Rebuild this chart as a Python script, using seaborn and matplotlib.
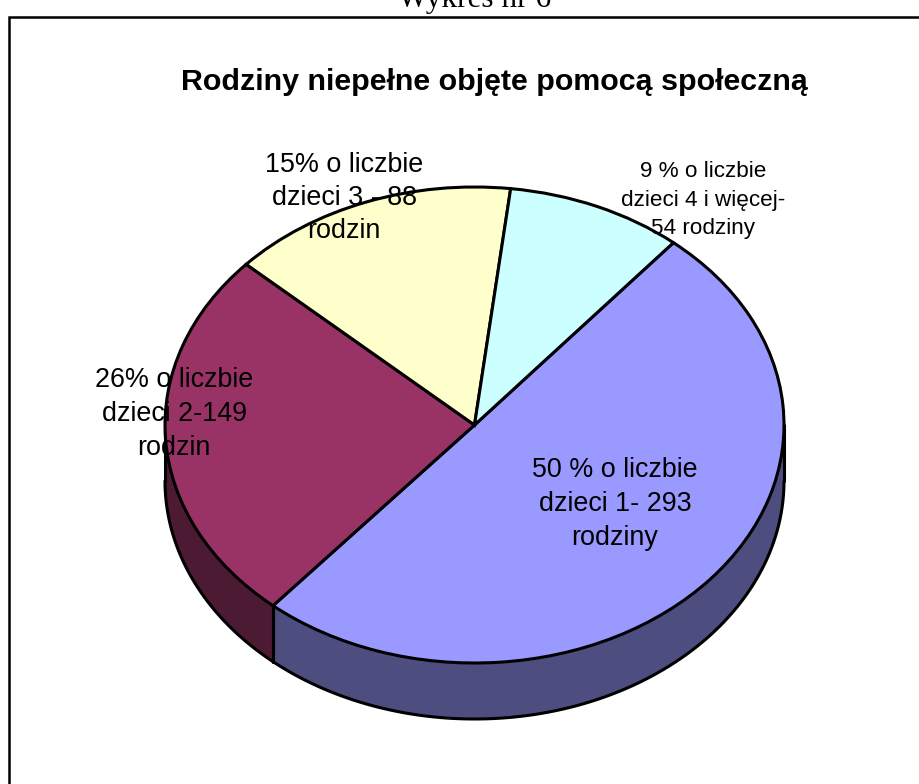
import matplotlib
matplotlib.use('Agg')
import matplotlib.pyplot as plt
import numpy as np
import seaborn as sns

# Dane
rodziny = [293, 149, 88, 54]
kolory_gora = ['#9999FF', '#993366', '#FFFFCC', '#CCFFFF']
kolory_bok = ['#4D4D80', '#4D1A33', '#808066', '#668080']
tytul = 'Rodziny niepełne objęte pomocą społeczną'
naglowek = 'Wykres nr 6'
etykiety = ['50 % o liczbie\ndzieci 1- 293\nrodziny',
            '26% o liczbie\ndzieci 2-149\nrodzin',
            '15% o liczbie\ndzieci 3 - 88\nrodzin',
            '9 % o liczbie\ndzieci 4 i więcej-\n54 rodziny']
etykiety_x = [615, 174, 344, 703]
etykiety_y = [504, 414, 198, 200]
etykiety_rozmiar = [19.4, 19.4, 19.4, 16.2]
etykiety_odstep = [1.42, 1.42, 1.34, 1.44]

sns.set_theme(style='white')
plt.rcParams['font.family'] = ['Liberation Sans', 'DejaVu Sans']

# Polozenie elipsy w pikselach
cx, cy, rx, ry, glebokosc = 474.5, 425, 309.5, 238, 56
kat_start = 50
szer = 2.2

fig = plt.figure(figsize=(9.19, 7.84), dpi=100, facecolor='white')
ax = fig.add_axes([0, 0, 1, 1])

# Gorna powierzchnia
paleta = sns.color_palette(kolory_gora)
ax.pie(rodziny, colors=paleta, startangle=kat_start, counterclock=False,
       wedgeprops={'edgecolor': 'black', 'linewidth': szer, 'zorder': 3})
ax.set_aspect('auto')
ax.set_xlim(-cx / rx, (919 - cx) / rx)
ax.set_ylim((cy - 784) / ry, cy / ry)

# Bok - tylko dolna polowa elipsy
d = glebokosc / ry
udzialy = np.array(rodziny) / sum(rodziny) * 360
konce = kat_start - np.cumsum(udzialy)
poczatki = konce + udzialy
for start, stop, kolor in zip(poczatki, konce, kolory_bok):
    # sprowadzenie do zakresu -180..0
    przedzialy = [(start - k, stop - k) for k in (0, 360)]
    for a, b in przedzialy:
        gora, dol = min(a, 0), max(b, -180)
        if gora <= dol:
            continue
        t = np.radians(np.linspace(dol, gora, 120))
        x, y = np.cos(t), np.sin(t)
        ax.fill_between(x, y - d, y, color=kolor, lw=0, zorder=1)
        ax.plot(x, y - d, color='black', lw=szer, zorder=2)
        for brzeg in (dol, gora):
            xb, yb = np.cos(np.radians(brzeg)), np.sin(np.radians(brzeg))
            ax.plot([xb, xb], [yb, yb - d], color='black', lw=szer, zorder=2)

# Warstwa w pikselach: ramka i teksty
nakladka = fig.add_axes([0, 0, 1, 1], facecolor='none')
nakladka.set_xlim(0, 919)
nakladka.set_ylim(784, 0)
nakladka.axis('off')
nakladka.plot([9, 9, 919], [784, 17, 17], color='black', lw=1.8, solid_joinstyle='miter')

nakladka.text(475, 7, naglowek, ha='center', va='baseline', fontsize=22.5, color='black',
              family=['Liberation Serif'])
nakladka.text(494, 82, tytul, ha='center', va='center', fontsize=21.9, fontweight='bold', color='black')
for tekst, x, y, r, o in zip(etykiety, etykiety_x, etykiety_y, etykiety_rozmiar, etykiety_odstep):
    nakladka.text(x, y, tekst, ha='center', va='center', fontsize=r, color='black',
                  linespacing=o, multialignment='center')

plt.savefig('out.png', dpi=100)
